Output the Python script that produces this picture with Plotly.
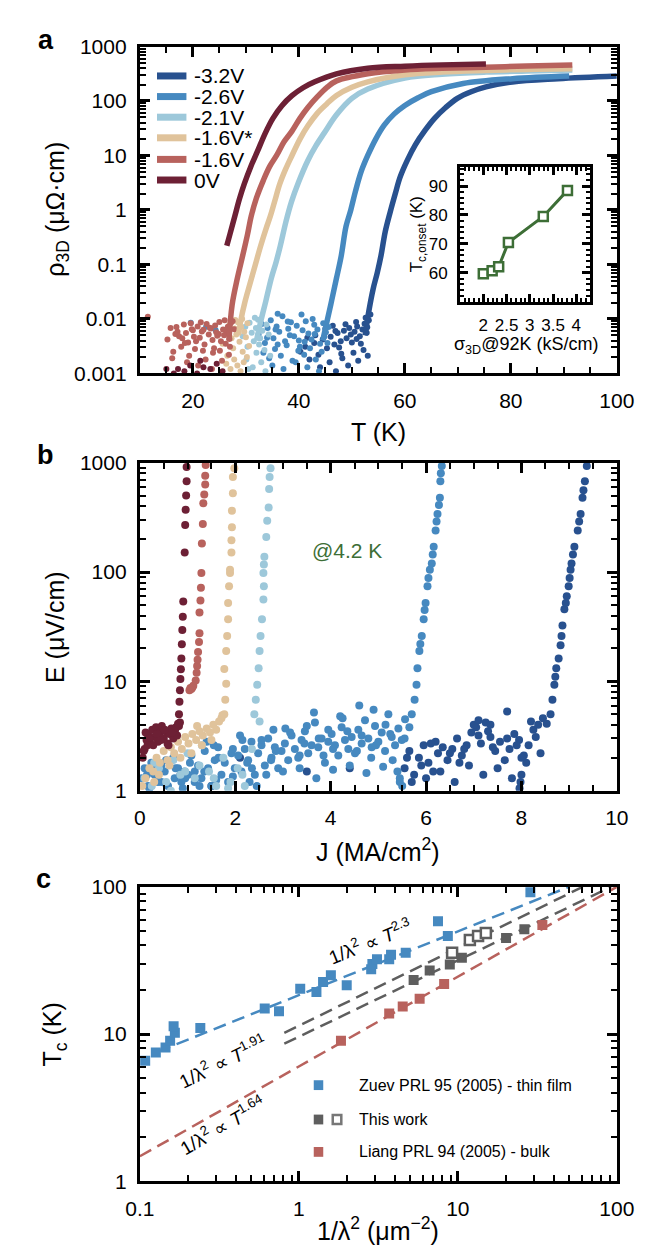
import plotly.graph_objects as go

W, H = 662, 1257
FONT = "Liberation Sans, Arial, Helvetica, sans-serif"

# ---------------- panel a : rho_3D vs T ----------------
labels_a = ["-3.2V", "-2.6V", "-2.1V", "-1.6V*", "-1.6V", "0V"]
colors_a = ["#28518f", "#4689c0", "#9dc8da", "#e0c39b", "#b8625d", "#6d2035"]

t_32 = [52.5, 53.2, 54.0, 54.8, 55.5, 56.3, 57.2, 58.2, 59.1, 60.5, 62, 63.8, 65.6, 67.7, 69.9, 72.5, 75.3, 80.3, 88.9, 100]
r_32 = [0.005, 0.0138, 0.035, 0.071, 0.145, 0.4, 0.89, 2.0, 4.0, 8.3, 15.8, 28.8, 48, 76, 112, 148, 182, 224, 257, 288]
t_26 = [44.5, 45.3, 46.2, 47.1, 48.0, 48.9, 49.8, 50.7, 51.8, 53, 54.5, 56.1, 58, 60, 62.5, 65, 71, 80.3, 91]
r_26 = [0.004, 0.0089, 0.022, 0.056, 0.145, 0.5, 1.0, 2.24, 5.2, 10, 20, 36, 58, 83, 115, 148, 209, 257, 288]
t_21 = [32.0, 32.8, 33.8, 34.8, 35.7, 36.5, 37.6, 38.6, 39.9, 41.7, 43.2, 44.8, 47.1, 50, 53, 60, 67, 75.3, 83, 91.6]
r_21 = [0.004, 0.0089, 0.022, 0.056, 0.11, 0.22, 0.63, 1.41, 3.16, 8.1, 15, 26, 56, 112, 166, 263, 309, 339, 355, 372]
t_16s = [28.6, 29.0, 29.8, 30.8, 31.8, 32.8, 33.8, 34.6, 35.4, 36.4, 37.5, 38.7, 40.2, 41.7, 43.5, 45.3, 47.1, 50, 53, 60, 67, 75.3, 83, 91.6]
r_16s = [0.005, 0.0089, 0.02, 0.045, 0.1, 0.22, 0.45, 0.76, 1.4, 3.0, 5.6, 10, 20, 35, 60, 89, 126, 178, 224, 302, 339, 363, 380, 389]
t_16 = [26.8, 27.4, 28.4, 29.4, 30.3, 31.0, 32.0, 33.3, 34.5, 35.8, 37.2, 38.7, 40.2, 41.7, 43.5, 45.3, 47.1, 53, 60, 67, 75.3, 83, 91.6]
r_16 = [0.004, 0.018, 0.056, 0.145, 0.35, 0.76, 1.66, 3.5, 6.3, 10, 17.8, 28, 48, 76, 120, 178, 234, 316, 372, 398, 417, 437, 457]
t_0 = [26.4, 27.0, 27.9, 28.8, 29.7, 31.0, 32.2, 33.6, 35.1, 36.8, 38.7, 40.8, 43.0, 47.1, 53, 60, 67, 75.3]
r_0 = [0.22, 0.36, 0.76, 1.6, 3.0, 6.5, 12, 25, 48, 82, 125, 175, 225, 315, 400, 436, 460, 478]

# noise floor points below the transition
tn_32 = [40.3, 41.2, 42.0, 42.9, 43.7, 44.5, 45.3, 46.0, 46.7, 47.3, 47.9, 48.5, 49.0, 49.5, 50.0, 50.5, 51.0, 51.5, 52.0, 52.4,
         52.8, 53.2, 44.0, 45.8, 47.0, 48.2, 49.3, 50.3, 51.2, 52.2, 53.0, 46.4, 48.8, 50.8, 52.6, 43.1, 41.6, 53.5,
         47.6, 49.8, 51.7, 45.0, 50.9, 52.9, 48.0, 46.9]
rn_32 = [0.0025, 0.0031, 0.0018, 0.0036, 0.0022, 0.0042, 0.0029, 0.0047, 0.0034, 0.0055, 0.0039, 0.0061, 0.0044, 0.0068, 0.0037,
         0.0058, 0.0073, 0.0048, 0.0064, 0.0082, 0.0056, 0.0095, 0.0013, 0.0016, 0.0011, 0.0019, 0.0014, 0.0024, 0.0017, 0.0027,
         0.0021, 0.0075, 0.0080, 0.0088, 0.0105, 0.0050, 0.0045, 0.0120,
         0.0030, 0.0052, 0.0035, 0.0066, 0.0043, 0.0070, 0.0023, 0.0060]
tn_26 = [32.4, 33.0, 33.6, 34.1, 34.7, 35.2, 35.8, 36.3, 36.9, 37.4, 38.0, 38.5, 39.1, 39.6, 40.2, 40.7, 41.3, 41.8, 42.4, 42.9,
         43.5, 44.0, 44.6, 45.1, 45.6, 33.3, 34.4, 35.5, 36.6, 37.7, 38.8, 39.9, 41.0, 42.1, 43.2, 44.3, 45.4, 35.0, 37.1, 39.4,
         41.6, 43.8, 19.6, 22.5, 24.3, 36.0, 40.5,
         34.0, 36.0, 38.3, 40.0, 42.6, 44.8, 37.9, 41.1, 43.0, 35.6]
rn_26 = [0.0052, 0.0081, 0.0036, 0.0068, 0.0095, 0.0044, 0.0073, 0.0058, 0.0112, 0.0039, 0.0066, 0.0087, 0.0048, 0.0075, 0.0031,
         0.0062, 0.0091, 0.0054, 0.0042, 0.0078, 0.0064, 0.0035, 0.0083, 0.0057, 0.0071, 0.0024, 0.0019, 0.0028, 0.0021, 0.0033,
         0.0017, 0.0026, 0.0022, 0.0029, 0.0018, 0.0025, 0.0036, 0.0014, 0.0012, 0.0016, 0.0013, 0.0011, 0.0085, 0.0072, 0.0062,
         0.0125, 0.0120,
         0.0045, 0.0034, 0.0050, 0.0040, 0.0100, 0.0047, 0.0090, 0.0038, 0.0053, 0.0064]
tn_21 = [29.4, 29.9, 30.3, 30.7, 31.1, 31.5, 31.9, 32.3, 32.7, 33.1, 33.5, 33.9, 34.3, 30.1, 31.3, 32.0, 32.9, 33.7, 34.6, 31.7, 30.5, 32.5]
rn_21 = [0.0048, 0.0072, 0.0031, 0.0085, 0.0056, 0.0039, 0.0068, 0.0097, 0.0044, 0.0061, 0.0027, 0.0079, 0.0052, 0.0018, 0.0013,
         0.0024, 0.0016, 0.0011, 0.0021, 0.0105, 0.0012, 0.0034]
tn_16s = [25.6, 26.1, 26.5, 26.9, 27.3, 27.6, 27.9, 28.2, 28.5, 28.8, 29.1, 29.4, 29.7, 30.0, 30.3, 30.6, 26.3, 27.1, 27.8, 28.4,
          29.0, 29.6, 30.2, 28.0, 29.3]
rn_16s = [0.0035, 0.0062, 0.0021, 0.0078, 0.0044, 0.0029, 0.0067, 0.0052, 0.0087, 0.0038, 0.0071, 0.0025, 0.0058, 0.0046, 0.0083,
          0.0032, 0.0015, 0.0012, 0.0018, 0.0014, 0.0011, 0.0016, 0.0020, 0.0096, 0.0100]
tn_16 = [15.2, 15.8, 16.3, 16.9, 17.4, 17.8, 18.3, 18.7, 19.1, 19.6, 20.0, 20.4, 20.9, 21.3, 21.7, 22.2, 22.6, 23.0, 23.4, 23.8,
         24.2, 24.6, 25.0, 25.3, 25.7, 26.0, 26.3, 26.6, 26.9, 27.2, 16.1, 17.1, 18.0, 19.3, 20.6, 21.5, 22.4, 23.2, 24.0, 24.9,
         25.5, 26.2, 26.8, 27.5, 18.9, 21.0, 23.6, 25.1, 11.5, 27.8,
         16.7, 18.5, 20.2, 22.0, 23.7, 25.9, 27.0, 19.8, 21.9, 24.4]
rn_16 = [0.0042, 0.0068, 0.0025, 0.0071, 0.0048, 0.0031, 0.0079, 0.0055, 0.0037, 0.0083, 0.0062, 0.0028, 0.0073, 0.0045, 0.0059,
         0.0034, 0.0081, 0.0052, 0.0067, 0.0024, 0.0076, 0.0049, 0.0088, 0.0039, 0.0064, 0.0095, 0.0058, 0.0072, 0.0043, 0.0085,
         0.0019, 0.0058, 0.0044, 0.0021, 0.0039, 0.0087, 0.0018, 0.0069, 0.0029, 0.0053, 0.0017, 0.0035, 0.0022, 0.0091, 0.0016,
         0.0014, 0.0012, 0.0026, 0.0110, 0.0065,
         0.0053, 0.0036, 0.0047, 0.0063, 0.0041, 0.0050, 0.0031, 0.0065, 0.0026, 0.0057]
tn_0 = [15.0, 16.4, 17.2, 18.4, 19.5, 20.8, 21.4, 22.0, 23.3, 24.5, 25.6]
rn_0 = [0.0012, 0.0010, 0.0012, 0.0011, 0.0014, 0.0010, 0.0017, 0.0013, 0.0012, 0.0015, 0.0011]

# inset: Tc,onset vs sigma_3D @ 92 K
sigma_92 = [2.0, 2.19, 2.33, 2.54, 3.29, 3.81]
tc_onset = [59.7, 60.7, 62.1, 70.5, 79.5, 88.5]

# ---------------- panel b : E vs J at 4.2 K ----------------
j_0 = [0.06, 0.10, 0.14, 0.18, 0.22, 0.26, 0.30, 0.34, 0.38, 0.42, 0.46, 0.50, 0.54, 0.58, 0.62, 0.66, 0.70, 0.74, 0.78, 0.82,
       0.12, 0.20, 0.28, 0.36, 0.44, 0.52, 0.60, 0.68, 0.76, 0.84, 0.08, 0.16,
       0.80, 0.82, 0.83, 0.84, 0.85, 0.86, 0.87, 0.88, 0.89, 0.90, 0.91, 0.94, 0.95, 0.96, 0.97, 0.98, 0.98]
e_0 = [2.0, 2.4, 2.9, 3.2, 2.7, 3.6, 3.1, 3.8, 2.8, 3.4, 3.9, 3.0, 3.5, 2.7, 3.3, 3.7, 3.0, 3.6, 3.2, 3.9,
       3.4, 3.0, 2.6, 3.3, 2.9, 3.6, 2.6, 3.4, 3.8, 4.2, 2.3, 2.6,
       4.1, 5.0, 6.5, 8.3, 10.5, 12.9, 16.2, 21.9, 29.5, 38.9, 53.7, 151, 269, 372, 501, 676, 912]
j_16 = [1.04, 1.06, 1.08, 1.10, 1.12, 1.17, 1.19, 1.20, 1.21, 1.22, 1.24, 1.25, 1.25, 1.27, 1.28, 1.29, 1.30, 1.32, 1.33, 1.35,
        1.37, 1.37, 1.38]
e_16 = [8.3, 8.7, 8.5, 8.8, 9.1, 10.2, 12, 13.8, 15.8, 18.6, 22.9, 27.5, 42.7, 55, 72, 98, 182, 275, 427, 513, 631, 759, 955]
j_16s = [0.05, 0.12, 0.20, 0.28, 0.35, 0.42, 0.50, 0.58, 0.65, 0.72, 0.80, 0.88, 0.95, 1.02, 1.10, 1.18, 1.25, 1.32, 1.40, 1.47,
         1.54, 1.60, 1.66, 1.71, 0.40, 0.62, 0.85, 1.08, 1.30, 1.50, 1.20, 0.30,
         1.73, 1.77, 1.79, 1.81, 1.77, 1.81, 1.83, 1.85, 1.85, 1.87, 1.89, 1.89, 1.92, 1.92, 1.93, 1.93, 1.95, 1.95, 1.98]
e_16s = [1.1, 1.3, 1.6, 1.5, 2.0, 1.8, 2.3, 1.9, 2.5, 2.2, 2.8, 2.4, 3.1, 2.7, 3.3, 2.9, 3.5, 3.2, 3.7, 3.4,
         4.0, 3.6, 4.3, 4.6, 1.4, 1.7, 2.0, 2.2, 2.6, 2.9, 3.9, 1.2,
         4.9, 5.0, 6.8, 9.5, 13, 19, 26, 37, 52, 74, 98, 105, 151, 195, 257, 363, 525, 741, 891]
j_21 = [0.10, 0.25, 0.40, 0.55, 0.70, 0.85, 1.00, 1.15, 1.30, 1.45, 1.60, 1.75, 1.90, 2.05, 2.20, 2.35, 0.30, 0.65, 0.95, 1.25,
        1.55, 1.85, 2.15,
        2.40, 2.51, 2.43, 2.46, 2.49, 2.51, 2.53, 2.56, 2.59, 2.60, 2.59, 2.60, 2.61, 2.65, 2.67, 2.70, 2.71, 2.72, 2.74]
e_21 = [1.3, 1.1, 1.6, 1.2, 1.9, 1.4, 2.2, 1.3, 2.6, 1.5, 1.1, 2.0, 1.2, 1.6, 1.1, 2.4, 1.8, 1.0, 1.5, 1.7,
        1.3, 1.05, 1.4,
        5.0, 4.3, 6.8, 9.3, 13.2, 19, 26, 37, 56, 74, 98, 117, 138, 209, 295, 389, 575, 741, 891]
j_26 = [0.03, 0.10, 0.17, 0.24, 0.31, 0.38, 0.45, 0.52, 0.59, 0.66, 0.73, 0.80, 0.87, 0.94,
        1.01, 1.08, 1.15, 1.22, 1.29, 1.36, 1.43, 1.50, 1.57, 1.64, 1.71, 1.78, 1.85, 1.92, 1.99,
        2.06, 2.13, 2.20, 2.27, 2.34, 2.41, 2.48, 2.55, 2.62, 2.69, 2.76, 2.83, 2.90, 2.97,
        3.04, 3.11, 3.18, 3.25, 3.32, 3.39, 3.46, 3.53, 3.60, 3.67, 3.74, 3.81, 3.88, 3.95,
        4.02, 4.09, 4.16, 4.23, 4.30, 4.37, 4.44, 4.51, 4.58, 4.65, 4.72, 4.79, 4.86, 4.93,
        5.00, 5.07, 5.14, 5.21, 5.28, 5.35, 5.42, 5.49, 5.56,
        0.20, 0.55, 0.90, 1.25, 1.60, 1.95, 2.30, 2.65, 3.00, 3.35, 3.70, 4.05, 4.40, 4.75, 5.10, 5.45,
        0.70, 1.40, 2.10, 2.80, 3.50, 4.20, 4.90, 5.30, 5.40, 5.45, 5.50, 3.65, 4.60, 2.45,
        0.15, 0.45, 0.75, 1.05, 1.35, 1.65, 1.95, 2.25, 2.55, 2.85, 3.15, 3.45, 3.75, 4.05, 4.35, 4.65, 4.95, 5.25,
        5.55, 0.35, 0.95, 1.55, 2.15, 2.75, 3.35, 3.95, 4.55, 5.15, 3.05, 3.85, 4.25, 4.85, 2.35, 1.15, 0.55,
        5.65, 5.70, 5.76, 5.80, 5.82, 5.86, 5.88, 5.91, 5.95, 5.97, 5.99, 6.03, 6.05, 6.08, 6.12, 6.14, 6.16, 6.20, 6.22,
        6.24, 6.27, 6.29, 6.30, 6.31, 6.33]
e_26 = [1.3, 1.6, 1.1, 1.8, 1.4, 1.2, 1.7, 1.5, 1.1, 1.9, 1.3, 1.6, 1.2, 1.5,
        1.4, 2.1, 1.2, 1.7, 1.3, 2.3, 1.6, 1.1, 1.9, 2.5, 1.4, 1.8, 1.2, 2.2, 1.6,
        2.1, 1.5, 2.4, 1.9, 2.8, 1.4, 2.2, 2.6, 1.7, 3.0, 2.0, 2.5, 1.6, 2.3,
        2.7, 1.9, 3.2, 2.4, 2.0, 2.9, 3.5, 2.2, 2.6, 4.2, 2.5, 3.0, 1.8, 2.8,
        3.3, 2.6, 2.1, 3.8, 2.9, 2.4, 3.1, 2.2, 3.6, 2.7, 4.4, 3.0, 2.5, 3.9,
        2.8, 3.4, 2.3, 5.0, 3.1, 2.6, 3.7, 2.9, 4.5,
        1.05, 1.15, 1.05, 1.1, 1.25, 1.35, 1.2, 1.4, 1.5, 1.6, 1.3, 1.55, 1.7, 1.45, 1.65, 1.2,
        2.0, 2.8, 3.2, 3.6, 3.9, 4.8, 5.5, 1.9, 1.5, 1.3, 1.1, 5.2, 6.0, 1.1,
        1.4, 1.2, 1.6, 1.8, 1.5, 2.0, 2.4, 1.8, 2.9, 2.3, 3.4, 2.7, 3.0, 2.4, 3.5, 3.2, 2.6, 3.3,
        3.0, 1.7, 1.3, 2.6, 2.9, 1.9, 2.1, 3.6, 2.3, 4.0, 3.7, 2.1, 4.6, 2.0, 1.6, 1.5, 1.9,
        3.8, 5.0, 6.8, 9.3, 13.2, 19, 22, 26, 37, 45, 52, 74, 88, 105, 120, 145, 170, 240, 290,
        339, 410, 479, 676, 800, 933]
j_32 = [5.55, 5.65, 5.75, 5.85, 5.95, 6.05, 6.15, 6.25, 6.35, 6.45, 6.55, 6.65, 6.75, 6.85, 6.95, 7.05, 7.15, 7.25, 7.35, 7.45,
        7.55, 7.65, 7.75, 7.85, 7.95, 8.05, 8.15, 8.25, 8.35, 8.45, 5.70, 6.00, 6.30, 6.60, 6.90, 7.20, 7.50, 7.80, 8.10, 8.40,
        7.00, 7.10, 7.30, 0.85, 2.1, 3.5, 4.4, 1.5, 7.7, 7.96, 7.98, 8.00,
        5.6, 5.9, 6.2, 6.5, 6.8, 7.1, 7.4, 7.7, 8.0, 8.3, 6.1, 6.7, 7.35, 7.9, 8.2,
        8.53, 8.61, 8.65, 8.69, 8.71, 8.73, 8.78, 8.82, 8.84, 8.86, 8.90, 8.93, 8.95, 8.99, 9.01, 9.03, 9.05, 9.08, 9.11,
        9.18, 9.21, 9.24, 9.28, 9.30, 9.33, 9.37]
e_32 = [1.6, 2.3, 1.4, 2.0, 2.6, 1.8, 1.5, 2.2, 2.5, 1.9, 2.4, 3.0, 2.1, 2.6, 3.4, 3.8, 2.7, 4.2, 3.1, 2.3,
        2.8, 1.9, 2.4, 3.3, 2.9, 2.1, 2.6, 3.6, 4.0, 4.6, 1.2, 1.3, 1.5, 1.2, 1.7, 1.4, 1.6, 1.3, 1.8, 2.2,
        4.0, 4.4, 3.5, 1.4, 2.0, 1.5, 1.6, 1.1, 5.3, 1.05, 1.2, 1.4,
        2.0, 1.7, 2.8, 2.2, 2.4, 3.2, 2.5, 3.0, 2.0, 3.1, 2.7, 1.8, 4.0, 2.6, 4.3,
        4.1, 5.0, 6.8, 9.3, 11, 13.2, 16.2, 21.4, 26, 32.4, 45.7, 52, 60, 74, 88, 105, 120, 145, 170,
        240, 290, 339, 479, 560, 676, 933]

# ---------------- panel c : Tc vs 1/lambda^2 ----------------
zuev_x = [0.108, 0.126, 0.145, 0.155, 0.166, 0.163, 0.240, 0.61, 0.75, 1.02, 1.29, 1.42, 1.59, 2.0, 2.85, 2.9, 3.1, 3.7, 3.8,
          4.7, 7.5, 8.65, 28.6]
zuev_t = [6.6, 7.5, 8.1, 9.0, 10.2, 11.3, 11.0, 14.9, 14.3, 20.3, 19.3, 22.6, 25.1, 21.5, 27.6, 29.9, 32.2, 32.2, 34.6,
          35.7, 58.4, 46.4, 92]
work_x = [5.27, 6.65, 8.9, 10.6, 20.1, 26.2]
work_t = [23.3, 27, 29.7, 33, 44.9, 51.5]
work_open_x = [9.2, 11.9, 13.4, 15.0]
work_open_t = [35.7, 43.6, 46.4, 48.5]
liang_x = [1.84, 3.7, 4.5, 5.75, 8.2, 34]
liang_t = [9.0, 13.8, 15.4, 17.4, 21.9, 55]

# power-law fit lines (end points)
fit_zuev_x, fit_zuev_t = [0.13, 50], [7.6, 100]
fit_work1_x, fit_work1_t = [0.81, 61], [10.2, 100]
fit_work2_x, fit_work2_t = [0.81, 92], [8.6, 100]
fit_liang_x, fit_liang_t = [0.1, 100], [1.48, 100]

legend_c = ["Zuev PRL 95 (2005) - thin film", "This work", "Liang PRL 94 (2005) - bulk"]
blue, gray, red, green = "#4689c0", "#5e5e5e", "#b8625d", "#3d6e36"


def px(x):
    return x / W


def py(y):
    return 1 - y / H


fig = go.Figure()

# panel a
curves = [(t_32, r_32, tn_32, rn_32), (t_26, r_26, tn_26, rn_26), (t_21, r_21, tn_21, rn_21),
          (t_16s, r_16s, tn_16s, rn_16s), (t_16, r_16, tn_16, rn_16), (t_0, r_0, tn_0, rn_0)]
for (t, r, tn, rn), c in zip(curves, colors_a):
    fig.add_trace(go.Scatter(x=tn, y=rn, mode="markers", marker=dict(color=c, size=6),
                             xaxis="x", yaxis="y", showlegend=False))
for (t, r, tn, rn), c in zip(curves, colors_a):
    fig.add_trace(go.Scatter(x=t, y=r, mode="lines", line=dict(color=c, width=5.5, shape="spline"),
                             xaxis="x", yaxis="y", showlegend=False))

# inset
fig.add_trace(go.Scatter(x=sigma_92, y=tc_onset, mode="lines+markers",
                         line=dict(color=green, width=3),
                         marker=dict(symbol="square", size=9, color="white", line=dict(color=green, width=2.5)),
                         xaxis="x4", yaxis="y4", showlegend=False))

# panel b
for jj, ee, c in [(j_32, e_32, colors_a[0]), (j_26, e_26, colors_a[1]), (j_21, e_21, colors_a[2]),
                  (j_16s, e_16s, colors_a[3]), (j_16, e_16, colors_a[4]), (j_0, e_0, colors_a[5])]:
    fig.add_trace(go.Scatter(x=jj, y=ee, mode="markers", marker=dict(color=c, size=8),
                             xaxis="x2", yaxis="y2", showlegend=False))

# panel c
dash = "13px,7px"
for fx, ft, c in [(fit_zuev_x, fit_zuev_t, blue), (fit_work1_x, fit_work1_t, gray),
                  (fit_work2_x, fit_work2_t, gray), (fit_liang_x, fit_liang_t, red)]:
    fig.add_trace(go.Scatter(x=fx, y=ft, mode="lines", line=dict(color=c, width=2.5, dash=dash),
                             xaxis="x3", yaxis="y3", showlegend=False))
fig.add_trace(go.Scatter(x=zuev_x, y=zuev_t, mode="markers", marker=dict(symbol="square", size=10, color=blue),
                         xaxis="x3", yaxis="y3", showlegend=False))
fig.add_trace(go.Scatter(x=liang_x, y=liang_t, mode="markers", marker=dict(symbol="square", size=10, color=red),
                         xaxis="x3", yaxis="y3", showlegend=False))
fig.add_trace(go.Scatter(x=work_x, y=work_t, mode="markers", marker=dict(symbol="square", size=10, color=gray),
                         xaxis="x3", yaxis="y3", showlegend=False))
fig.add_trace(go.Scatter(x=work_open_x, y=work_open_t, mode="markers",
                         marker=dict(symbol="square", size=10, color="white", line=dict(color=gray, width=2.5)),
                         xaxis="x3", yaxis="y3", showlegend=False))


def log_minor(lo, hi):
    return [m * 10 ** e for e in range(lo, hi) for m in range(2, 10)]


base = dict(showline=True, linecolor="black", linewidth=3, mirror="allticks", ticks="inside",
            ticklen=10, tickwidth=2.5, tickcolor="black", showgrid=False, zeroline=False,
            tickfont=dict(size=21, color="black"), ticklabelstandoff=6)
minor = dict(ticks="inside", ticklen=6, tickwidth=2, tickcolor="black", showgrid=False)

xdom = [px(123), px(625)]
fig.update_layout(
    width=W, height=H, margin=dict(l=0, r=0, t=0, b=0),
    paper_bgcolor="white", plot_bgcolor="white",
    font=dict(family=FONT, color="black"),
    showlegend=False,
    xaxis=dict(base, domain=xdom, anchor="y", range=[10, 100], tickvals=[20, 40, 60, 80, 100],
               minor=dict(minor, dtick=5, tick0=10)),
    yaxis=dict(base, domain=[py(360), py(27)], anchor="x", type="log", range=[-3, 3],
               tickvals=[0.001, 0.01, 0.1, 1, 10, 100, 1000],
               ticktext=["0.001", "0.01", "0.1", "1", "10", "100", "1000"],
               minor=dict(minor, tickvals=log_minor(-3, 3))),
    xaxis2=dict(base, domain=xdom, anchor="y2", range=[0, 10], dtick=2,
                minor=dict(minor, dtick=0.5)),
    yaxis2=dict(base, domain=[py(785), py(451)], anchor="x2", type="log", range=[0, 3],
                tickvals=[1, 10, 100, 1000], ticktext=["1", "10", "100", "1000"],
                minor=dict(minor, tickvals=log_minor(0, 3))),
    xaxis3=dict(base, domain=xdom, anchor="y3", type="log", range=[-1, 2],
                tickvals=[0.1, 1, 10, 100], ticktext=["0.1", "1", "10", "100"],
                minor=dict(minor, tickvals=log_minor(-1, 2))),
    yaxis3=dict(base, domain=[py(1183), py(883)], anchor="x3", type="log", range=[0, 2],
                tickvals=[1, 10, 100], ticktext=["1", "10", "100"],
                minor=dict(minor, tickvals=log_minor(0, 2))),
    xaxis4=dict(base, domain=[px(460), px(597)], anchor="y4", range=[1.5, 4.3],
                tickvals=[2, 2.5, 3, 3.5, 4], ticklen=8, tickfont=dict(size=17, color="black"),
                minor=dict(minor, dtick=0.1, tick0=1.5, ticklen=4)),
    yaxis4=dict(base, domain=[py(287), py(150)], anchor="x4", range=[50, 96.5],
                tickvals=[60, 70, 80, 90], ticklen=8, tickfont=dict(size=17, color="black"),
                minor=dict(minor, dtick=2, tick0=50, ticklen=4)),
)

ann = []
shapes = []


def text(x, y, s, size, color="black", xanchor="center", yanchor="middle", **kw):
    ann.append(dict(x=px(x), y=py(y), xref="paper", yref="paper", text=s, showarrow=False,
                    xanchor=xanchor, yanchor=yanchor,
                    font=dict(size=size, color=color, family=FONT), **kw))


# panel letters
text(24, 20, "<b>a</b>", 27)
text(24, 443, "<b>b</b>", 27)
text(22, 875, "<b>c</b>", 27)

# axis titles
text(36, 193, "ρ<sub>3D</sub> (μΩ·cm)", 25, textangle=-90)
text(374, 420, "T (K)", 25)
text(33, 618, "E (μV/cm)", 25, textangle=-90)
text(374, 845, "J (MA/cm<sup>2</sup>)", 25)
text(33, 1033, "T<sub>c</sub> (K)", 25, textangle=-90)
text(374, 1232, "1/λ<sup>2</sup> (μm<sup>−2</sup>)", 25)

# inset titles
text(416, 218, "T<sub>c,onset</sub> (K)", 17, textangle=-90)
text(530, 332, "σ<sub>3D</sub>@92K (kS/cm)", 18)

# panel a legend
leg_y = [57, 78, 99, 120, 142, 163]
for lab, c, yy in zip(labels_a, colors_a, leg_y):
    shapes.append(dict(type="line", xref="paper", yref="paper", x0=px(141), x1=px(172), y0=py(yy), y1=py(yy),
                       line=dict(color=c, width=7)))
    text(178, yy, lab, 21, xanchor="left")

# panel b annotation
text(341, 540, "@4.2 K", 21, color=green)

# panel c fit annotations
text(365, 938, "1/λ<sup>2</sup> ∝ <i>T</i><sup>2.3</sup>", 19, textangle=-22)
text(210, 1060, "1/λ<sup>2</sup> ∝ <i>T</i><sup>1.91</sup>", 19, textangle=-26)
text(210, 1126, "1/λ<sup>2</sup> ∝ <i>T</i><sup>1.64</sup>", 19, textangle=-30)

# panel c legend
leg_c = [(1085, blue), (1120, gray), (1153, red)]
for lab, (yy, c) in zip(legend_c, leg_c):
    shapes.append(dict(type="rect", xref="paper", yref="paper", x0=px(306), x1=px(316), y0=py(yy + 5), y1=py(yy - 5),
                       fillcolor=c, line=dict(width=0)))
    text(352, yy, lab, 16, xanchor="left")
shapes.append(dict(type="rect", xref="paper", yref="paper", x0=px(326), x1=px(335), y0=py(1124.5), y1=py(1115.5),
                   fillcolor="white", line=dict(color="#777777", width=2.5)))

fig.update_layout(annotations=ann, shapes=shapes)
fig.write_html("out.html")
